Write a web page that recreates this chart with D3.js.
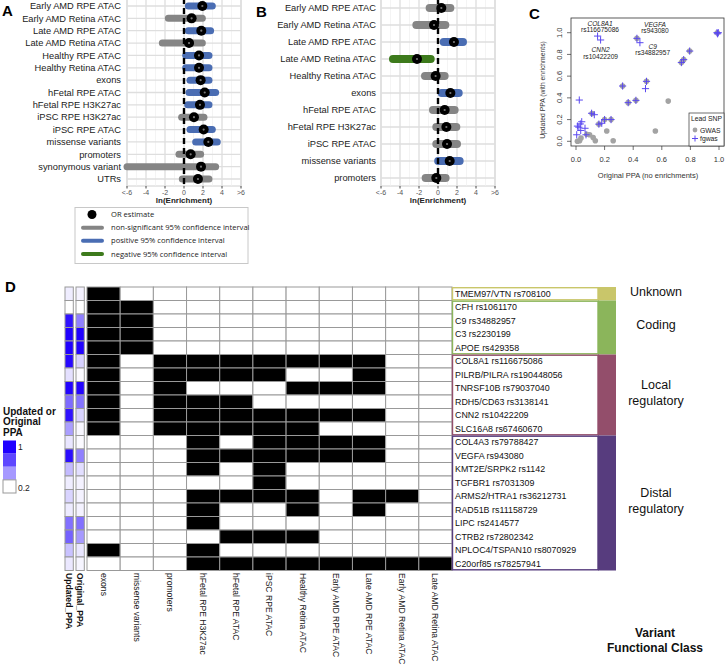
<!DOCTYPE html>
<html><head><meta charset="utf-8">
<script src="https://cdn.jsdelivr.net/npm/d3@7"></script>
<style>body{margin:0;background:#fff}svg{display:block;font-family:"Liberation Sans",Arial,sans-serif}</style>
</head><body>
<svg id="c" width="725" height="671"></svg>
<script>
// ---------- Panel A data ----------
const catsA = ["Early AMD RPE ATAC","Early AMD Retina ATAC","Late AMD RPE ATAC","Late AMD Retina ATAC","Healthy RPE ATAC","Healthy Retina ATAC","exons","hFetal RPE ATAC","hFetal RPE H3K27ac","iPSC RPE H3K27ac","iPSC RPE ATAC","missense variants","promoters","synonymous variant","UTRs"];
const estA  = [1.93,0.8,1.82,0.53,1.58,1.58,1.75,2.18,1.68,1.05,2.07,2.56,0.7,1.79,1.47];
const lowA  = [0.46,-1.65,0.46,-2.28,0.18,0.18,0.63,0.53,0.39,-0.25,0.63,1.23,-0.53,-6,-0.18];
const highA = [2.98,1.93,2.8,1.93,2.63,2.63,2.63,3.33,2.63,2.1,2.98,3.5,1.75,3.33,2.63];
// ---------- Panel B data ----------
const catsB = ["Early AMD RPE ATAC","Early AMD Retina ATAC","Late AMD RPE ATAC","Late AMD Retina ATAC","Healthy Retina ATAC","exons","hFetal RPE ATAC","hFetal RPE H3K27ac","iPSC RPE ATAC","missense variants","promoters"];
const estB  = [0.35,-0.42,1.68,-2.21,-0.25,1.3,0.7,0.88,0.95,1.23,-0.18];
const lowB  = [-0.88,-2.28,0.6,-4.74,-1.37,0.39,-0.53,-0.18,-0.18,0.02,-1.3];
const highB = [1.3,0.77,2.63,-0.77,0.7,2.18,1.75,1.93,2.0,2.28,0.8];
const enrTicks = [-6,-4,-2,0,2,4,6];
const enrTickLabels = ["<-6","-4","-2","0","2","4",">6"];
const ciLegend = ["OR estimate","non-significant 95% confidence interval","positive 95% confidence interval","negative 95% confidence interval"];
// ---------- Panel C data ----------
const gwasX = [0.01,0.025,0.035,0.075,0.095,0.12,0.135,0.215,0.26,0.555,0.645,0.326,0.365,0.419,0.493,0.737,0.753,0.795,0.988,0.426,0.112,0.16,0.2,0.245];
const gwasY = [0.0,0.005,0.03,0.065,0.06,0.035,0.005,0.095,0.005,0.095,0.37,0.509,0.356,0.377,0.552,0.725,0.752,0.831,1.0,0.948,0.255,0.158,0.2,0.2];
const fgwasX = [0.151,0.172,0.426,0.447,0.986,0.99,0.995,0.795,0.737,0.753,0.493,0.486,0.326,0.365,0.419,0.023,0.109,0.128,0.16,0.18,0.2,0.245,0.04,0.01,0.03,0.063,0.005,0.07,0.033,0.02];
const fgwasY = [0.969,0.933,0.948,0.908,1.0,0.99,1.0,0.831,0.725,0.752,0.552,0.485,0.509,0.356,0.377,0.38,0.258,0.245,0.158,0.166,0.2,0.2,0.18,0.14,0.16,0.12,0.06,0.06,0.1,0.13];
const pptTicks = [0,0.2,0.4,0.6,0.8,1.0];
const annGenes = ["COL8A1","CNN2","VEGFA","C9"];
const annRs = ["rs116675086","rs10422209","rs943080","rs34882957"];
const annX = [0.168,0.172,0.552,0.536];
const annY = [1.065,0.82,1.057,0.852];
// ---------- Panel D data ----------
const snpLabels = ["TMEM97/VTN rs708100","CFH rs1061170","C9 rs34882957","C3 rs2230199","APOE rs429358","COL8A1 rs116675086","PILRB/PILRA rs190448056","TNRSF10B rs79037040","RDH5/CD63 rs3138141","CNN2 rs10422209","SLC16A8 rs67460670","COL4A3 rs79788427","VEGFA rs943080","KMT2E/SRPK2 rs1142","TGFBR1 rs7031309","ARMS2/HTRA1 rs36212731","RAD51B rs11158729","LIPC rs2414577","CTRB2 rs72802342","NPLOC4/TSPAN10 rs8070929","C20orf85 rs78257941"];
const annotCols = ["exons","missense variants","promoters","hFetal RPE H3K27ac","hFetal RPE ATAC","iPSC RPE ATAC","Healthy Retina ATAC","Early AMD RPE ATAC","Late AMD RPE ATAC","Early AMD Retina ATAC","Late AMD Retina ATAC"];
const annotRows = ["10000000000","11000000000","11000000000","11000000000","11000000000","10111111100","10111100100","10100011100","10111000000","10111111100","10111110000","00010111100","00011111100","00010100000","00000100000","00011110110","00010010100","00010000000","00001110000","10010000000","00011111111"];
const updatedPPA  = [0.07,0.0,0.93,1.0,1.0,0.97,0.12,0.99,0.58,0.93,0.38,0.1,0.95,0.27,0.07,0.17,0.08,0.56,0.62,0.24,0.09];
const originalPPA = [0.05,0.0,0.5,1.0,0.99,0.18,0.02,0.98,0.55,0.17,0.03,0.02,0.5,0.13,0.05,0.05,0.05,0.56,0.4,0.1,0.04];
const ppaCols = ["Updated_PPA","Original_PPA"];
const classNames = ["Unknown","Coding","Local regulatory","Distal regulatory"];
const classSizes = [1,4,6,10];
const classColors = ["#c9c66a","#8bb55b","#934e6b","#573c7e"];
const ppaLegendVals = [1,0.72,0.4,0.0];
const ppaLegendLabels = ["1","","","0.2"];

const svg = d3.select("#c");
const ciColor = {ns:"#858585", pos:"#4a6db3", neg:"#3d7a1c"};
const sig = (lo,hi)=> lo>0 ? "pos" : (hi<0 ? "neg" : "ns");

function forest(cats, est, low, high, xr, yr, panelTop, panelBot, labelX, lw){
  const g = svg.append("g");
  const x = d3.scaleLinear().domain([-6,6]).range(xr);
  const y = d3.scalePoint().domain(cats).range(yr);
  g.append("rect").attr("x",xr[0]).attr("y",panelTop).attr("width",xr[1]-xr[0]).attr("height",panelBot-panelTop).attr("fill","#fff").attr("stroke","#d0d0d0");
  g.selectAll(".vg").data(enrTicks).join("line").attr("x1",d=>x(d)).attr("x2",d=>x(d)).attr("y1",panelTop).attr("y2",panelBot).attr("stroke","#dedede").attr("stroke-width",1.3);
  g.selectAll(".vgm").data([-5,-3,-1,1,3,5]).join("line").attr("x1",d=>x(d)).attr("x2",d=>x(d)).attr("y1",panelTop).attr("y2",panelBot).attr("stroke","#efefef").attr("stroke-width",0.7);
  g.selectAll(".hg").data(cats).join("line").attr("x1",xr[0]).attr("x2",xr[1]).attr("y1",d=>y(d)).attr("y2",d=>y(d)).attr("stroke","#dedede").attr("stroke-width",1.3);
  cats.forEach((c,i)=>{
    const lo=Math.max(-6,low[i]), hi=Math.min(6,high[i]);
    g.append("line").attr("x1",x(lo)).attr("x2",x(hi)).attr("y1",y(c)).attr("y2",y(c))
      .attr("stroke",ciColor[sig(low[i],high[i])]).attr("stroke-width",lw).attr("stroke-linecap","round");
  });
  g.append("line").attr("x1",x(0)).attr("x2",x(0)).attr("y1",panelTop).attr("y2",panelBot).attr("stroke","#000").attr("stroke-width",2.4).attr("stroke-dasharray","6,4");
  cats.forEach((c,i)=>{
    g.append("circle").attr("cx",x(est[i])).attr("cy",y(c)).attr("r",5).attr("fill","#000");
    g.append("circle").attr("cx",x(est[i])).attr("cy",y(c)).attr("r",1.1).attr("fill","#777");
  });
  g.selectAll(".lab").data(cats).join("text").attr("x",labelX).attr("y",d=>y(d)).attr("dy","0.35em").attr("text-anchor","end").attr("font-size",9.3).attr("fill","#222").text(d=>d);
  g.selectAll(".tk").data(enrTicks).join("line").attr("x1",d=>x(d)).attr("x2",d=>x(d)).attr("y1",panelBot).attr("y2",panelBot+2.5).attr("stroke","#444");
  g.selectAll(".tl").data(enrTicks).join("text").attr("x",d=>x(d)).attr("y",panelBot+8.5).attr("text-anchor","middle").attr("font-size",7).attr("fill","#555").text((d,i)=>enrTickLabels[i]);
  g.append("text").attr("x",x(0)).attr("y",panelBot+16.5).attr("text-anchor","middle").attr("font-size",8).attr("font-weight","bold").attr("fill","#222").text("ln(Enrichment)");
  return g;
}
forest(catsA, estA, lowA, highA, [127,241], [6,179], -2, 186, 121, 7);
forest(catsB, estB, lowB, highB, [381,495], [8,178], -2, 186, 376, 8);
svg.append("text").attr("x",2).attr("y",16).attr("font-size",15).attr("font-weight","bold").text("A");
svg.append("text").attr("x",256).attr("y",17).attr("font-size",15).attr("font-weight","bold").text("B");

// CI legend
{
  const g = svg.append("g");
  g.append("rect").attr("x",75).attr("y",207.5).attr("width",173).attr("height",56).attr("fill","#fff").attr("stroke","#c8c8c8");
  const ly = d3.scalePoint().domain(ciLegend).range([214.5,254]);
  const kinds = ["pt","ns","pos","neg"];
  ciLegend.forEach((t,i)=>{
    if(kinds[i]==="pt"){
      g.append("circle").attr("cx",92).attr("cy",ly(t)).attr("r",4.5).attr("fill","#000");
    } else {
      g.append("line").attr("x1",83).attr("x2",102).attr("y1",ly(t)).attr("y2",ly(t)).attr("stroke",ciColor[kinds[i]]).attr("stroke-width",4).attr("stroke-linecap","round");
    }
    g.append("text").attr("x",111).attr("y",ly(t)).attr("dy","0.35em").attr("font-family","'Open Sans',sans-serif").attr("font-size",7.6).attr("fill","#222").text(t);
  });
}

// ---------- Panel C ----------
{
  const g = svg.append("g");
  const x = d3.scaleLinear().domain([0,1]).range([576,719]);
  const y = d3.scaleLinear().domain([0,1]).range([141.3,32.7]);
  const bx0=571,bx1=724,by0=18,by1=146;
  g.append("rect").attr("x",bx0).attr("y",by0).attr("width",bx1-bx0).attr("height",by1-by0).attr("fill","none").attr("stroke","#333").attr("stroke-width",0.8);
  g.selectAll(".xt").data(pptTicks).join("line").attr("x1",d=>x(d)).attr("x2",d=>x(d)).attr("y1",by1).attr("y2",by1+4).attr("stroke","#333").attr("stroke-width",0.7);
  g.selectAll(".xl").data(pptTicks).join("text").attr("x",d=>x(d)).attr("y",by1+16).attr("text-anchor","middle").attr("font-size",7.5).attr("fill","#333").text(d=>d.toFixed(1));
  g.selectAll(".yt").data(pptTicks).join("line").attr("y1",d=>y(d)).attr("y2",d=>y(d)).attr("x1",bx0).attr("x2",bx0-4).attr("stroke","#333").attr("stroke-width",0.7);
  g.selectAll(".yl").data(pptTicks).join("text").attr("transform",d=>`translate(${bx0-9},${y(d)}) rotate(-90)`).attr("text-anchor","middle").attr("font-size",7.5).attr("fill","#333").text(d=>d.toFixed(1));
  g.append("text").attr("x",648).attr("y",178).attr("text-anchor","middle").attr("font-size",7.5).attr("fill","#333").text("Original PPA (no enrichments)");
  g.append("text").attr("transform","translate(545,90) rotate(-90)").attr("text-anchor","middle").attr("font-size",6.8).attr("fill","#333").text("Updated PPA (with enrichments)");
  gwasX.forEach((v,i)=>g.append("circle").attr("cx",x(v)).attr("cy",y(gwasY[i])).attr("r",2.8).attr("fill","#a3a3a3"));
  const plus = (cx,cy,s)=>`M${cx-s},${cy}H${cx+s}M${cx},${cy-s}V${cy+s}`;
  fgwasX.forEach((v,i)=>g.append("path").attr("d",plus(x(v),y(fgwasY[i]),3.6)).attr("stroke","#5a48f0").attr("stroke-width",1).attr("fill","none"));
  annGenes.forEach((t,i)=>{
    g.append("text").attr("x",x(annX[i])).attr("y",y(annY[i])).attr("text-anchor","middle").attr("font-size",6.6).attr("font-style","italic").attr("fill","#222").text(t);
    g.append("text").attr("x",x(annX[i])).attr("y",y(annY[i])+6.6).attr("text-anchor","middle").attr("font-size",6.6).attr("fill","#222").text(annRs[i]);
  });
  g.append("rect").attr("x",689).attr("y",113).attr("width",35).attr("height",33).attr("fill","#fff").attr("stroke","#333").attr("stroke-width",0.7);
  g.append("text").attr("x",691).attr("y",121).attr("font-size",6.8).attr("fill","#222").text("Lead SNP");
  g.append("circle").attr("cx",695).attr("cy",130).attr("r",2.4).attr("fill","#a3a3a3");
  g.append("text").attr("x",700).attr("y",132.5).attr("font-size",6.8).attr("fill","#222").text("GWAS");
  g.append("path").attr("d",plus(695,138.5,3)).attr("stroke","#5a48f0").attr("stroke-width",1);
  g.append("text").attr("x",700).attr("y",141).attr("font-size",6.8).attr("fill","#222").text("fgwas");
  svg.append("text").attr("x",529).attr("y",19).attr("font-size",15).attr("font-weight","bold").text("C");
}

// ---------- Panel D ----------
{
  const g = svg.append("g");
  const yTop = 287, rowH = 13.5;
  const y = d3.scaleBand().domain(snpLabels).range([yTop, yTop+rowH*snpLabels.length]);
  const x = d3.scaleBand().domain(annotCols).range([87,452]);
  const xp = d3.scaleOrdinal().domain(ppaCols).range([65,76]);
  const pw = 8.3;
  const ppaColor = d3.scaleLinear().domain([0,1]).range(["#ffffff","#2000ff"]).interpolate(d3.interpolateRgb);
  snpLabels.forEach((s,i)=>{
    [updatedPPA[i],originalPPA[i]].forEach((v,j)=>{
      g.append("rect").attr("x",xp(ppaCols[j])).attr("y",y(s)).attr("width",pw).attr("height",y.bandwidth()).attr("fill",ppaColor(v)).attr("stroke","#999").attr("stroke-width",1);
    });
    annotCols.forEach((c,j)=>{
      g.append("rect").attr("x",x(c)).attr("y",y(s)).attr("width",x.bandwidth()).attr("height",y.bandwidth()).attr("fill",annotRows[i][j]==="1"?"#000":"#fff").attr("stroke","#999").attr("stroke-width",1);
    });
  });
  annotCols.forEach(c=>{
    g.append("text").attr("transform",`translate(${x(c)+x.bandwidth()/2},573) rotate(90)`).attr("dy","0.35em").attr("font-size",8.6).attr("fill","#222").text(c);
  });
  ppaCols.forEach(c=>{
    g.append("text").attr("transform",`translate(${xp(c)+pw/2},573) rotate(90)`).attr("dy","0.35em").attr("font-size",8.6).attr("font-weight","bold").attr("fill","#111").text(c);
  });
  let start = 0;
  classNames.forEach((cn,k)=>{
    const n = classSizes[k];
    const y0 = y(snpLabels[start]), y1 = y(snpLabels[start+n-1]) + y.bandwidth();
    g.append("rect").attr("x",598).attr("y",y0).attr("width",18).attr("height",y1-y0).attr("fill",classColors[k]);
    g.append("rect").attr("x",452.5).attr("y",y0+0.7).attr("width",145.5).attr("height",y1-y0-1.4).attr("fill","#fff").attr("stroke",classColors[k]).attr("stroke-width",1.4);
    const words = cn.split(" ");
    const cy = (y0+y1)/2 - 2.5;
    words.forEach((w,wi)=>{
      g.append("text").attr("x",656).attr("y",cy + (wi-(words.length-1)/2)*15.5).attr("dy","0.35em").attr("text-anchor","middle").attr("font-size",12.5).attr("fill","#111").text(w);
    });
    start += n;
  });
  snpLabels.forEach(s=>{
    g.append("text").attr("x",455).attr("y",y(s)+y.bandwidth()/2).attr("dy","0.36em").attr("font-size",8.9).attr("fill","#111").text(s);
  });
  g.append("text").attr("x",655).attr("y",637).attr("text-anchor","middle").attr("font-size",12).attr("font-weight","bold").attr("fill","#111").text("Variant");
  g.append("text").attr("x",655).attr("y",652).attr("text-anchor","middle").attr("font-size",12).attr("font-weight","bold").attr("fill","#111").text("Functional Class");
  ["Updated or","Original","PPA"].forEach((t,i)=>g.append("text").attr("x",3).attr("y",415+i*10.3).attr("font-size",10).attr("font-weight","bold").attr("fill","#111").text(t));
  const ly = d3.scaleBand().domain(ppaLegendVals).range([440.5,493]);
  ppaLegendVals.forEach((v,i)=>{
    g.append("rect").attr("x",3).attr("y",ly(v)).attr("width",13).attr("height",ly.bandwidth()).attr("fill",ppaColor(v)).attr("stroke",i===3?"#999":"none");
    if(ppaLegendLabels[i]) g.append("text").attr("x",18).attr("y",ly(v)+ly.bandwidth()/2+(i===0?0:2)).attr("dy","0.35em").attr("font-size",8.5).attr("fill","#222").text(ppaLegendLabels[i]);
  });
  svg.append("text").attr("x",5).attr("y",292).attr("font-size",15).attr("font-weight","bold").text("D");
}
</script>
</body></html>
